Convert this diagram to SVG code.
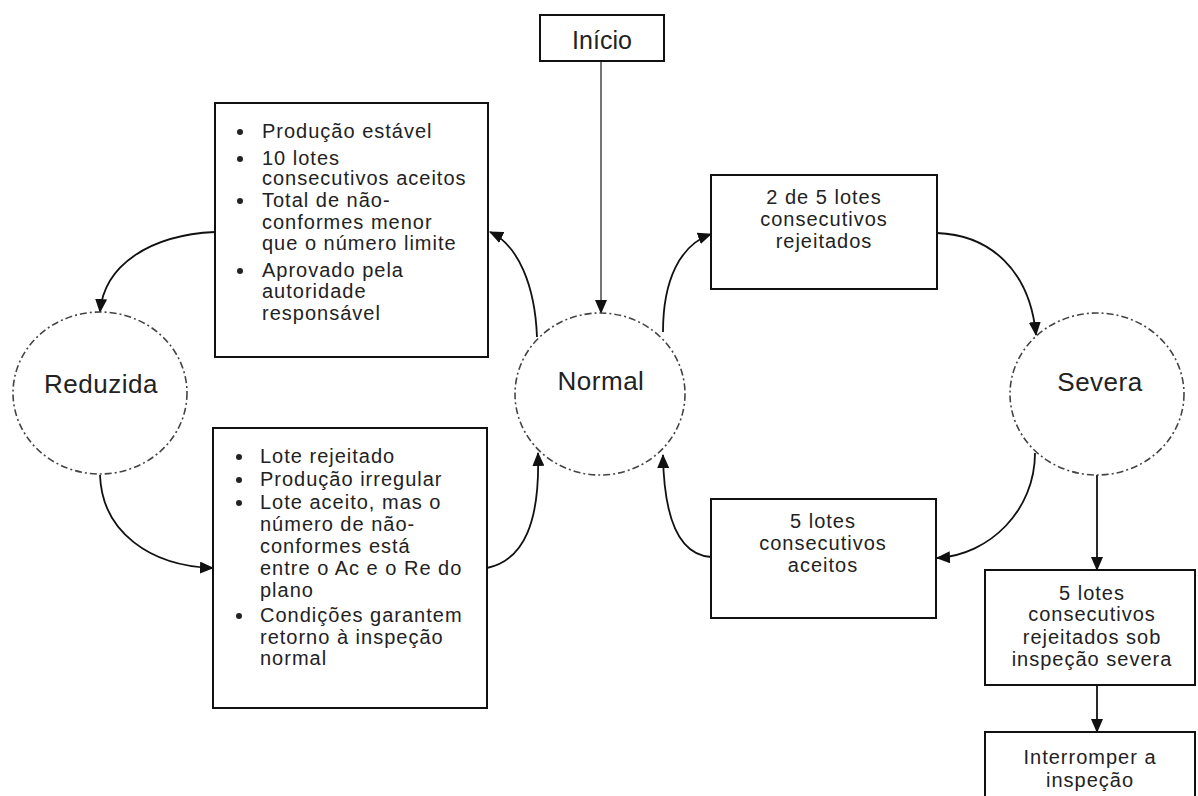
<svg xmlns="http://www.w3.org/2000/svg" width="1198" height="796" viewBox="0 0 1198 796">
  <style>
    .box { fill: #fff; stroke: #111; stroke-width: 2; }
    .state { fill: #fff; stroke: #444; stroke-width: 1.6; stroke-dasharray: 7 3 2 3; }
    .txt { font-family: "Liberation Sans", Arial, sans-serif; font-size: 20px; letter-spacing: 1px; fill: #222; }
    .mid { text-anchor: middle; }
    .big { font-size: 26px; letter-spacing: 0.5px; }
    .bul { fill: #222; }
    .conn { fill: none; stroke: #111; stroke-width: 1.8; }
    .feed { fill: none; stroke: #666; stroke-width: 1.8; }
  </style>
  <defs>
    <marker id="arrow" viewBox="0 0 14 12" refX="13" refY="6" markerWidth="14" markerHeight="12" markerUnits="userSpaceOnUse" orient="auto">
      <path d="M0,0 L14,6 L0,12 Z" fill="#111"/>
    </marker>
  </defs>

  <rect width="1198" height="796" fill="#fff"/>

  <!-- connectors -->
  <g id="connectors">
    <path class="feed" d="M601,61 L601,313" marker-end="url(#arrow)"/>
    <path class="conn" d="M537,337 C535,285 518,245 490,232" marker-end="url(#arrow)"/>
    <path class="conn" d="M215,232 C150,235 104,265 100,312" marker-end="url(#arrow)"/>
    <path class="conn" d="M100,475 C102,532 150,566 213,568" marker-end="url(#arrow)"/>
    <path class="conn" d="M487,568 C525,560 540,520 538,453" marker-end="url(#arrow)"/>
    <path class="conn" d="M663,332 C663,280 680,245 711,234" marker-end="url(#arrow)"/>
    <path class="conn" d="M937,233 C990,235 1030,270 1036,335" marker-end="url(#arrow)"/>
    <path class="conn" d="M1035,453 C1035,510 990,555 937,558" marker-end="url(#arrow)"/>
    <path class="conn" d="M711,557 C680,555 664,520 663,455" marker-end="url(#arrow)"/>
    <path class="conn" d="M1097,475 L1097,570" marker-end="url(#arrow)"/>
    <path class="conn" d="M1097,685 L1097,732" marker-end="url(#arrow)"/>
  </g>

  <!-- start -->
  <g id="inicio">
    <rect class="box" x="540" y="15" width="124" height="46"/>
    <text class="txt big mid" x="602" y="49" style="font-size:25px;letter-spacing:0">Início</text>
  </g>

  <!-- inspection states -->
  <g id="normal">
    <ellipse class="state" cx="600" cy="394" rx="85" ry="81"/>
    <text class="txt big mid" x="601" y="390">Normal</text>
  </g>
  <g id="reduzida">
    <ellipse class="state" cx="100" cy="393" rx="87" ry="81"/>
    <text class="txt big mid" x="101" y="393">Reduzida</text>
  </g>
  <g id="severa">
    <ellipse class="state" cx="1097" cy="394" rx="87" ry="81"/>
    <text class="txt big mid" x="1100" y="391">Severa</text>
  </g>

  <!-- switching rule: normal to reduced -->
  <g id="regra-reduzida">
    <rect class="box" x="215" y="103" width="273" height="254"/>
    <circle class="bul" cx="240" cy="132" r="3"/>
    <circle class="bul" cx="240" cy="159" r="3"/>
    <circle class="bul" cx="240" cy="201" r="3"/>
    <circle class="bul" cx="240" cy="271" r="3"/>
    <text class="txt" x="262" y="138">Produção estável</text>
    <text class="txt" x="262" y="165">10 lotes</text>
    <text class="txt" x="262" y="185">consecutivos aceitos</text>
    <text class="txt" x="262" y="207">Total de não-</text>
    <text class="txt" x="262" y="229">conformes menor</text>
    <text class="txt" x="262" y="250">que o número limite</text>
    <text class="txt" x="262" y="277">Aprovado pela</text>
    <text class="txt" x="262" y="298">autoridade</text>
    <text class="txt" x="262" y="320">responsável</text>
  </g>

  <!-- switching rule: reduced back to normal -->
  <g id="regra-retorno">
    <rect class="box" x="213" y="428" width="274" height="280"/>
    <circle class="bul" cx="239" cy="457" r="3"/>
    <circle class="bul" cx="239" cy="480" r="3"/>
    <circle class="bul" cx="239" cy="503" r="3"/>
    <circle class="bul" cx="239" cy="616" r="3"/>
    <text class="txt" x="260" y="463">Lote rejeitado</text>
    <text class="txt" x="260" y="486">Produção irregular</text>
    <text class="txt" x="260" y="509">Lote aceito, mas o</text>
    <text class="txt" x="260" y="531">número de não-</text>
    <text class="txt" x="260" y="553">conformes está</text>
    <text class="txt" x="260" y="575">entre o Ac e o Re do</text>
    <text class="txt" x="260" y="597">plano</text>
    <text class="txt" x="260" y="622">Condições garantem</text>
    <text class="txt" x="260" y="644">retorno à inspeção</text>
    <text class="txt" x="260" y="665">normal</text>
  </g>

  <!-- switching rule: normal to tightened -->
  <g id="regra-severa">
    <rect class="box" x="711" y="175" width="226" height="114"/>
    <text class="txt mid" x="824" y="204">2 de 5 lotes</text>
    <text class="txt mid" x="824" y="226">consecutivos</text>
    <text class="txt mid" x="824" y="248">rejeitados</text>
  </g>

  <!-- switching rule: tightened back to normal -->
  <g id="regra-normal">
    <rect class="box" x="711" y="499" width="225" height="119"/>
    <text class="txt mid" x="823" y="528">5 lotes</text>
    <text class="txt mid" x="823" y="550">consecutivos</text>
    <text class="txt mid" x="823" y="572">aceitos</text>
  </g>

  <!-- discontinuation -->
  <g id="regra-interrupcao">
    <rect class="box" x="985" y="570" width="210" height="115"/>
    <text class="txt mid" x="1092" y="600">5 lotes</text>
    <text class="txt mid" x="1092" y="621">consecutivos</text>
    <text class="txt mid" x="1092" y="644">rejeitados sob</text>
    <text class="txt mid" x="1092" y="666">inspeção severa</text>
  </g>
  <g id="interromper">
    <rect class="box" x="985" y="732" width="210" height="70"/>
    <text class="txt mid" x="1090" y="764">Interromper a</text>
    <text class="txt mid" x="1090" y="787">inspeção</text>
  </g>
</svg>
